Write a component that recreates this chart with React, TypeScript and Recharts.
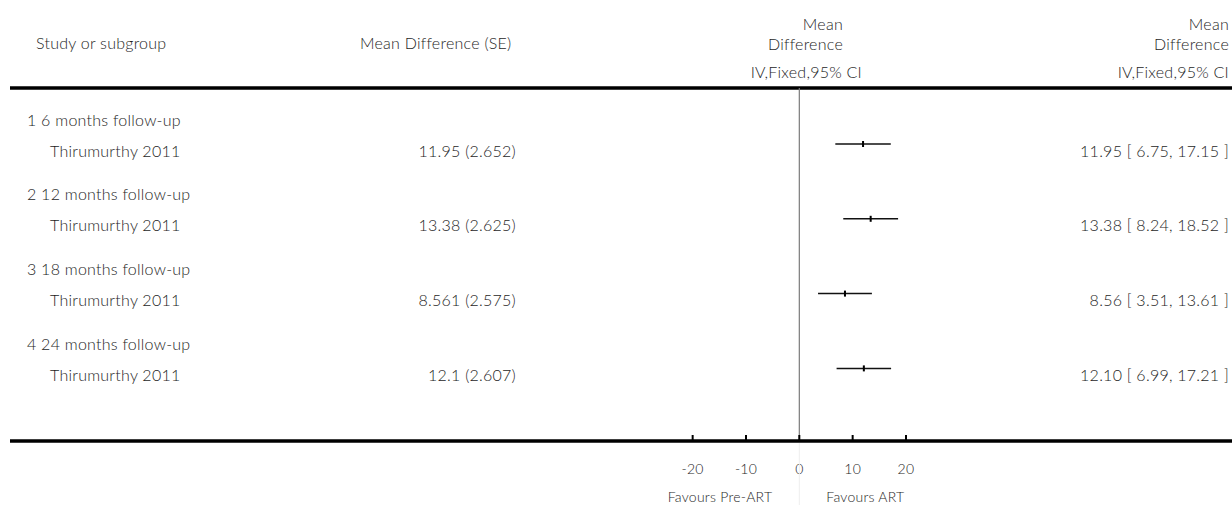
import React from "react";
import {
  ScatterChart,
  Scatter,
  XAxis,
  YAxis,
  ErrorBar,
  ReferenceLine,
} from "recharts";

// ---- data ----
const subgroups = [
  "1 6 months follow-up",
  "2 12 months follow-up",
  "3 18 months follow-up",
  "4 24 months follow-up",
];
const studies = ["Thirumurthy 2011", "Thirumurthy 2011", "Thirumurthy 2011", "Thirumurthy 2011"];
const mdSeText = ["11.95 (2.652)", "13.38 (2.625)", "8.561 (2.575)", "12.1 (2.607)"];
const meanDiff = [11.95, 13.38, 8.56, 12.1];
const ciLow = [6.75, 8.24, 3.51, 6.99];
const ciHigh = [17.15, 18.52, 13.61, 17.21];
const rowIds = [1, 2, 3, 4];
const xTicks = [-20, -10, 0, 10, 20];
const favourLeft = "Favours Pre-ART";
const favourRight = "Favours ART";

const rows = meanDiff.map((md, i) => ({
  row: rowIds[i],
  md,
  err: [md - ciLow[i], ciHigh[i] - md],
}));
const ciText = meanDiff.map(
  (md, i) => `${md.toFixed(2)} [ ${ciLow[i].toFixed(2)}, ${ciHigh[i].toFixed(2)} ]`
);

const FONT = "Lato, 'Open Sans', sans-serif";
const FS = 16;
const FW = 300;
const TXT = "#1e1e1e";
const LS = 0.25;

const Y_MIN = 0.2513;
const Y_MAX = 4.9706;

const renderYTick = (props: any) => {
  const { y, payload } = props;
  const i = Math.round(Number(payload.value)) - 1;
  if (i < 0 || i >= subgroups.length) return <g />;
  return (
    <g fontFamily={FONT} fontSize={FS} fontWeight={FW} fill={TXT} letterSpacing={LS}>
      <text x={27} y={y - 25} dominantBaseline="central" textAnchor="start">
        {subgroups[i]}
      </text>
      <text x={50} y={y + 6} dominantBaseline="central" textAnchor="start">
        {studies[i]}
      </text>
      <text x={516} y={y + 6} dominantBaseline="central" textAnchor="end">
        {mdSeText[i]}
      </text>
      <text x={1229} y={y + 6} dominantBaseline="central" textAnchor="end">
        {ciText[i]}
      </text>
    </g>
  );
};

const renderXTick = (props: any) => {
  const { x, y, payload } = props;
  const v = payload.value;
  return (
    <g fontFamily={FONT} fontSize={14} fontWeight={FW} fill={TXT} letterSpacing={LS}>
      <line x1={x} x2={x} y1={y - 6} y2={y} stroke="#000" strokeWidth={2} />
      <text x={x} y={y + 27} dominantBaseline="central" textAnchor="middle">
        {v}
      </text>
      {v === 0 && (
        <g>
          <line x1={x} x2={x} y1={y + 2} y2={y + 70} stroke="#eeeeee" strokeWidth={1} />
          <text x={x - 27} y={y + 55} dominantBaseline="central" textAnchor="end">
            {favourLeft}
          </text>
          <text x={x + 27} y={y + 55} dominantBaseline="central" textAnchor="start">
            {favourRight}
          </text>
        </g>
      )}
    </g>
  );
};

const Marker = (props: any) => {
  const { cx, cy } = props;
  return <rect x={cx - 1} y={cy - 3} width={2} height={6} fill="#000" />;
};

export default function App() {
  return (
    <div style={{ position: "absolute", left: 0, top: 0, width: 1232, height: 505, background: "#fff" }}>
      <ScatterChart
        width={1232}
        height={505}
        margin={{ top: 88, right: 0, bottom: 0, left: 0 }}
      >
        <XAxis
          type="number"
          dataKey="md"
          domain={[-148, 81.13]}
          allowDataOverflow
          ticks={xTicks}
          interval={0}
          height={64}
          tickSize={0}
          tickMargin={0}
          tickLine={false}
          axisLine={{ stroke: "#000", strokeWidth: 3.5 }}
          tick={renderXTick}
        />
        <YAxis
          type="number"
          dataKey="row"
          domain={[Y_MIN, Y_MAX]}
          allowDataOverflow
          reversed
          ticks={rowIds}
          interval={0}
          width={10}
          axisLine={false}
          tickLine={false}
          tick={renderYTick}
        />
        <ReferenceLine y={Y_MIN} stroke="#000" strokeWidth={3.5} ifOverflow="visible" />
        <ReferenceLine x={0} stroke="#7a7a7a" strokeWidth={1.2} />
        <Scatter data={rows} isAnimationActive={false} shape={<Marker />}>
          <ErrorBar dataKey="err" direction="x" width={0} stroke="#111" strokeWidth={1.5} isAnimationActive={false} />
        </Scatter>
      </ScatterChart>
      <svg
        width={1232}
        height={88}
        style={{ position: "absolute", left: 0, top: 0, pointerEvents: "none" }}
      >
        <g fontFamily={FONT} fontSize={FS} fontWeight={FW} fill={TXT} letterSpacing={LS}>
          <text x={36} y={42} dominantBaseline="central">Study or subgroup</text>
          <text x={360} y={42} dominantBaseline="central">Mean Difference (SE)</text>
          <text x={843} y={23} textAnchor="end" dominantBaseline="central">Mean</text>
          <text x={843} y={43} textAnchor="end" dominantBaseline="central">Difference</text>
          <text x={862} y={71} textAnchor="end" dominantBaseline="central">IV,Fixed,95% CI</text>
          <text x={1229} y={23} textAnchor="end" dominantBaseline="central">Mean</text>
          <text x={1229} y={43} textAnchor="end" dominantBaseline="central">Difference</text>
          <text x={1229} y={71} textAnchor="end" dominantBaseline="central">IV,Fixed,95% CI</text>
        </g>
      </svg>
    </div>
  );
}
